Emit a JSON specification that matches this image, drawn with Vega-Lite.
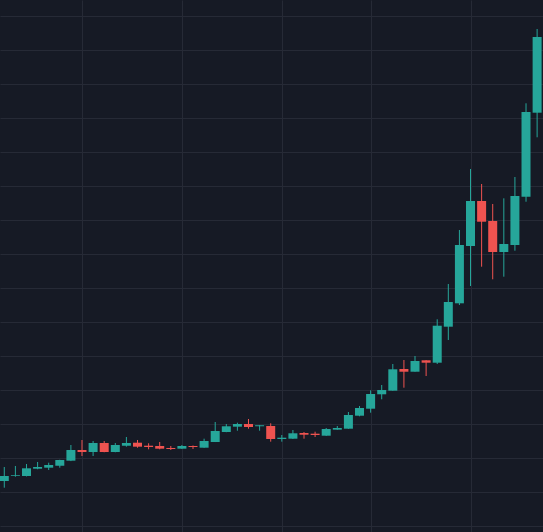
{
  "$schema": "https://vega.github.io/schema/vega-lite/v6.json",
  "width": 543,
  "height": 532,
  "autosize": {"type": "fit", "contains": "padding"},
  "padding": 0,
  "background": "#161a25",
  "config": {"view": {"stroke": null}, "axis": {"labels": false, "ticks": false, "domain": false, "title": null, "grid": true, "gridColor": "#262a36", "gridWidth": 1, "labelPadding": 0, "tickSize": 0, "offset": 0}},
  "data": {"values": [
    {"i": 0, "open": 23.15, "high": 27.26, "low": 21.18, "close": 24.62},
    {"i": 1, "open": 24.71, "high": 27.56, "low": 24.41, "close": 24.91},
    {"i": 2, "open": 24.62, "high": 28.15, "low": 24.5, "close": 26.88},
    {"i": 3, "open": 26.76, "high": 28.74, "low": 26.6, "close": 27.26},
    {"i": 4, "open": 27.06, "high": 28.53, "low": 26.38, "close": 27.85},
    {"i": 5, "open": 27.65, "high": 29.4, "low": 27.06, "close": 29.32},
    {"i": 6, "open": 29.12, "high": 33.74, "low": 29.0, "close": 32.26},
    {"i": 7, "open": 32.26, "high": 35.21, "low": 30.5, "close": 31.68},
    {"i": 8, "open": 31.68, "high": 34.91, "low": 30.5, "close": 34.32},
    {"i": 9, "open": 34.32, "high": 34.91, "low": 31.6, "close": 31.68},
    {"i": 10, "open": 31.68, "high": 34.32, "low": 31.6, "close": 33.74},
    {"i": 11, "open": 33.53, "high": 36.09, "low": 33.24, "close": 34.32},
    {"i": 12, "open": 34.41, "high": 35.21, "low": 32.94, "close": 33.24},
    {"i": 13, "open": 33.53, "high": 34.24, "low": 32.47, "close": 33.15},
    {"i": 14, "open": 33.44, "high": 34.62, "low": 32.47, "close": 32.65},
    {"i": 15, "open": 32.85, "high": 33.44, "low": 32.26, "close": 32.56},
    {"i": 16, "open": 32.65, "high": 33.74, "low": 32.56, "close": 33.44},
    {"i": 17, "open": 33.44, "high": 33.59, "low": 32.56, "close": 33.15},
    {"i": 18, "open": 32.94, "high": 35.59, "low": 32.9, "close": 34.91},
    {"i": 19, "open": 34.62, "high": 40.5, "low": 34.6, "close": 37.85},
    {"i": 20, "open": 37.56, "high": 39.91, "low": 37.5, "close": 39.24},
    {"i": 21, "open": 39.12, "high": 40.29, "low": 37.94, "close": 39.91},
    {"i": 22, "open": 39.91, "high": 41.38, "low": 38.53, "close": 39.03},
    {"i": 23, "open": 39.24, "high": 39.6, "low": 37.94, "close": 39.53},
    {"i": 24, "open": 39.32, "high": 40.12, "low": 34.71, "close": 35.5},
    {"i": 25, "open": 35.5, "high": 36.68, "low": 34.71, "close": 35.88},
    {"i": 26, "open": 35.59, "high": 38.15, "low": 35.5, "close": 37.18},
    {"i": 27, "open": 37.26, "high": 37.56, "low": 35.59, "close": 36.76},
    {"i": 28, "open": 37.06, "high": 37.65, "low": 36.09, "close": 36.68},
    {"i": 29, "open": 36.47, "high": 38.74, "low": 36.4, "close": 38.44},
    {"i": 30, "open": 38.24, "high": 39.32, "low": 38.2, "close": 38.74},
    {"i": 31, "open": 38.53, "high": 43.44, "low": 38.5, "close": 42.56},
    {"i": 32, "open": 42.35, "high": 45.21, "low": 42.18, "close": 44.62},
    {"i": 33, "open": 44.41, "high": 49.82, "low": 43.24, "close": 48.74},
    {"i": 34, "open": 48.65, "high": 51.38, "low": 47.18, "close": 49.91},
    {"i": 35, "open": 49.71, "high": 57.56, "low": 49.7, "close": 56.0},
    {"i": 36, "open": 56.09, "high": 58.74, "low": 50.59, "close": 55.29},
    {"i": 37, "open": 55.29, "high": 59.91, "low": 55.3, "close": 58.44},
    {"i": 38, "open": 58.65, "high": 58.7, "low": 54.03, "close": 57.94},
    {"i": 39, "open": 57.94, "high": 70.71, "low": 57.56, "close": 68.82},
    {"i": 40, "open": 68.53, "high": 81.09, "low": 64.62, "close": 75.79},
    {"i": 41, "open": 75.41, "high": 96.97, "low": 74.91, "close": 92.56},
    {"i": 42, "open": 92.26, "high": 114.91, "low": 80.5, "close": 105.5},
    {"i": 43, "open": 105.5, "high": 110.5, "low": 86.18, "close": 99.41},
    {"i": 44, "open": 99.62, "high": 104.62, "low": 82.47, "close": 90.5},
    {"i": 45, "open": 90.5, "high": 106.29, "low": 83.24, "close": 92.85},
    {"i": 46, "open": 92.56, "high": 112.56, "low": 90.88, "close": 106.97},
    {"i": 47, "open": 106.76, "high": 134.24, "low": 105.29, "close": 131.68},
    {"i": 48, "open": 131.47, "high": 156.09, "low": 124.24, "close": 153.74}
  ]},
  "encoding": {
    "x": {
      "field": "i", "type": "quantitative",
      "scale": {"domain": [-0.387, 48.53], "nice": false, "zero": false, "padding": 0},
      "axis": {"values": [7, 16, 25, 33, 42]}
    },
    "y": {
      "field": "low", "type": "quantitative",
      "scale": {"domain": [8.147, 164.62], "nice": false, "zero": false, "padding": 0},
      "axis": {"values": [10, 20, 30, 40, 50, 60, 70, 80, 90, 100, 110, 120, 130, 140, 150, 160]}
    },
    "color": {
      "condition": {"test": "datum.close >= datum.open", "value": "#26a69a"},
      "value": "#ef5350"
    }
  },
  "layer": [
    {
      "mark": {"type": "rule", "strokeWidth": 1, "clip": true},
      "encoding": {
        "y2": {"field": "high"}
      }
    },
    {
      "mark": {"type": "bar", "size": 9, "clip": true},
      "encoding": {
        "y": {
          "field": "open", "type": "quantitative",
          "scale": {"domain": [8.147, 164.62], "nice": false, "zero": false, "padding": 0},
          "axis": {"values": [10, 20, 30, 40, 50, 60, 70, 80, 90, 100, 110, 120, 130, 140, 150, 160]}
        },
        "y2": {"field": "close"}
      }
    }
  ]
}
